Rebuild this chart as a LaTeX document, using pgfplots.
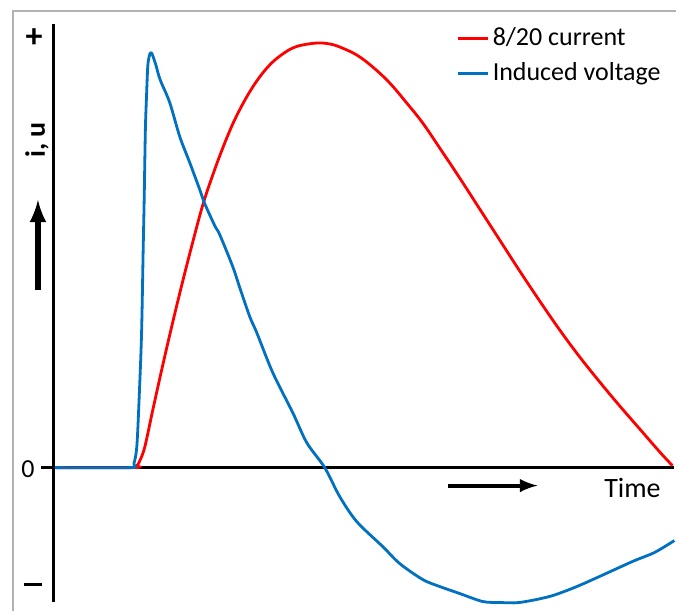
\documentclass[border=0pt]{standalone}
\usepackage{fontspec}
\setmainfont{Carlito}
\usepackage{pgfplots}
\pgfplotsset{compat=1.18}
\definecolor{curred}{RGB}{255,0,0}
\definecolor{volblue}{RGB}{0,112,192}

\begin{document}
\begin{tikzpicture}
\begin{axis}[
    x=0.5pt, y=0.5pt,
    xmin=-12, xmax=621.5,
    ymin=-135, ymax=444,
    axis lines=middle,
    axis line style={-, line width=1.4pt, black},
    xtick=\empty, ytick=\empty,
    clip=false,
    legend image code/.code={\draw[#1] (0pt,0pt) -- (15pt,0pt);},
    legend style={at={(axis cs:403.5,442)}, anchor=north west, draw=none, fill=none,
        inner sep=0pt, row sep=5pt, column sep=1.5pt,
        nodes={inner sep=0pt, text height=9.5pt, text depth=3pt},
        font=\fontsize{13}{15}\selectfont},
    legend cell align=left,
]
% frame of the original picture
\draw[gray!60, line width=0.6pt] (axis cs:-40.5,-144) -- (axis cs:-40.5,457) -- (axis cs:623.5,457);
\path (axis cs:-53.5,-144) rectangle (axis cs:623.5,468);

\addplot[curred, line width=1.4pt, smooth, tension=0.6] coordinates {
(1.5,0) (79.5,0) (83.5,2) (86.5,7) (91.5,21) (99.5,58) (109.5,103)
(119.5,146) (129.5,187) (139.5,226) (149.5,263) (159.5,293) (169.5,320)
(179.5,344) (189.5,364) (199.5,381) (209.5,395) (219.5,406) (229.5,414)
(239.5,420) (249.5,423) (264.5,425) (276.5,424) (286.5,421) (303.5,413)
(319.5,401) (336.5,385) (353.5,365) (369.5,345) (386.5,320) (406.5,290)
(426.5,259) (446.5,228) (466.5,197) (486.5,167) (506.5,138) (526.5,111)
(546.5,86) (566.5,62) (586.5,39) (606.5,16) (619.5,2)
};
\addlegendentry{8/20 current}

\addplot[volblue, line width=1.4pt, line join=round, smooth, tension=0.5] coordinates {
(1.5,0) (76.5,0) (80.5,4) (83.5,22) (86,75) (88.2,135) (89.8,218)
(90.8,268) (92,338) (93.2,373) (94.5,403) (96.5,414) (98,415) (99.5,412)
(102.5,403) (105.5,392) (108.5,384) (116.5,365) (126.5,331) (136.5,305)
(146.5,278) (151.5,264) (161.5,242) (166.5,233) (179.5,201) (186.5,180)
(196.5,151) (203.5,135) (219.5,95) (239.5,55) (253.5,25) (271.5,0)
(286.5,-29) (303.5,-54) (329.5,-79) (346.5,-96) (369.5,-112) (386.5,-119)
(406.5,-126) (429.5,-134) (446.5,-135) (466.5,-135) (496.5,-129)
(521.5,-120) (546.5,-109) (579.5,-94) (601.5,-85) (621.5,-73)
};
\addlegendentry{Induced voltage}

% axis annotations
\node[font=\fontsize{17}{17}\selectfont\bfseries] at (axis cs:-19.5,430) {+};
\node[font=\fontsize{13}{13}\selectfont] at (axis cs:-25.5,-2) {0};
\node[inner sep=0pt] at (axis cs:-20.5,-117) {\rule{9pt}{1.3pt}};
\node[font=\fontsize{14}{14}\selectfont\bfseries, rotate=90] at (axis cs:-16.5,328) {i, u};
\draw[-latex, line width=2.8pt] (axis cs:-15.5,178) -- (axis cs:-15.5,268);
\node[font=\fontsize{14}{14}\selectfont] at (axis cs:579.5,-20) {Time};
\draw[-latex, line width=2pt] (axis cs:394.5,-18) -- (axis cs:484.5,-18);
\end{axis}
\end{tikzpicture}
\end{document}
